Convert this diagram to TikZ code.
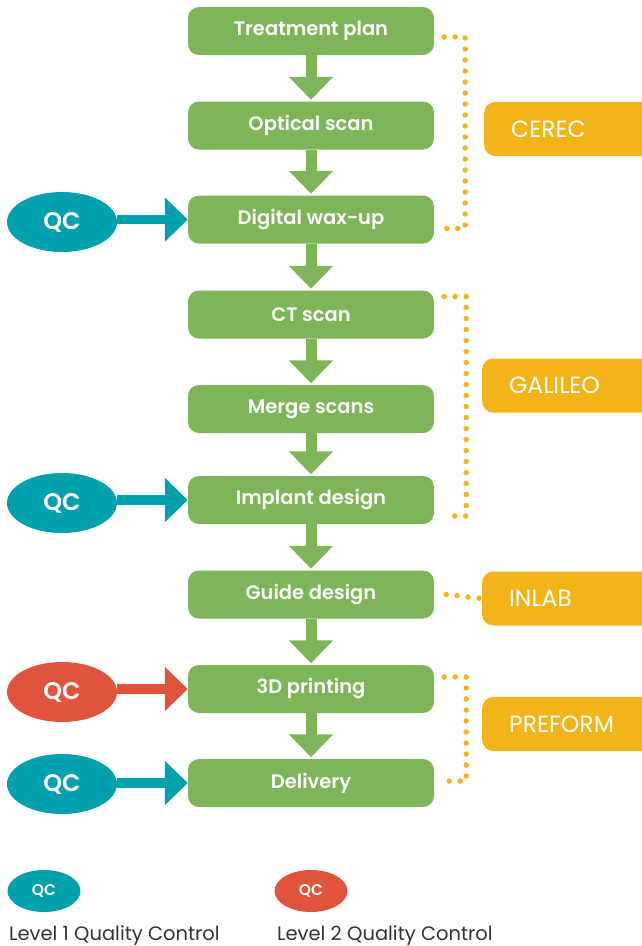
\documentclass[tikz,border=0pt]{standalone}
\usepackage{fontspec}
\setmainfont{Poppins}
\newfontfamily\medfont{Poppins SemiBold}
\usetikzlibrary{shapes.geometric,arrows.meta}
\definecolor{stepgreen}{HTML}{7DB558}
\definecolor{qcteal}{HTML}{00A0AC}
\definecolor{qcred}{HTML}{E0543E}
\definecolor{toolorange}{HTML}{F2B418}
\definecolor{legendgray}{HTML}{333333}
\begin{document}
\begin{tikzpicture}[x=1pt,y=-1pt,
    step node/.style={rounded corners=11pt,fill=stepgreen,text=white,minimum width=246pt,minimum height=48pt,inner sep=0pt,font=\medfont\fontsize{19.5}{24}\selectfont},
    tool node/.style={anchor=west,rounded corners=11pt,fill=toolorange,text=white,minimum height=54pt,text width=160pt,inner xsep=27pt,inner ysep=0pt,align=left,font=\fontsize{23.5}{26}\selectfont},
    qc node/.style={ellipse,minimum width=110pt,minimum height=60pt,inner sep=0pt,text=white,font=\medfont\fontsize{24}{28}\selectfont},
    small qc/.style={ellipse,minimum width=73pt,minimum height=42pt,inner sep=0pt,text=white,font=\medfont\fontsize{15.5}{18}\selectfont},
    flow/.style={stepgreen,line width=11pt,-{Triangle[width=43pt,length=23pt]},shorten >=1.5pt},
    check/.style={line width=9.5pt,-{Triangle[width=43pt,length=23pt]}},
    dots/.style={toolorange,line width=5.5pt,line cap=round,dash pattern=on 0pt off 11pt}]
    \clip (0,0) rectangle (642,946);

    % workflow steps
    \node[step node] at (311,31) (plan) {Treatment plan};
    \node[step node] at (311,125.5) (optical) {Optical scan};
    \node[step node] at (311,219.5) (waxup) {Digital wax-up};
    \node[step node] at (311,314.5) (ct) {CT scan};
    \node[step node] at (311,409) (merge) {Merge scans};
    \node[step node] at (311,500) (implant) {Implant design};
    \node[step node] at (311,594.5) (guide) {Guide design};
    \node[step node] at (311,689) (print) {3D printing};
    \node[step node] at (311,783) (delivery) {Delivery};

    \draw[flow] (plan) -- (optical);
    \draw[flow] (optical) -- (waxup);
    \draw[flow] (waxup) -- (ct);
    \draw[flow] (ct) -- (merge);
    \draw[flow] (merge) -- (implant);
    \draw[flow] (implant) -- (guide);
    \draw[flow] (guide) -- (print);
    \draw[flow] (print) -- (delivery);

    % quality control
    \node[qc node,fill=qcteal] at (62,222) (qca) {QC};
    \node[qc node,fill=qcteal] at (62,503) (qcb) {QC};
    \node[qc node,fill=qcred] at (62,692) (qcc) {QC};
    \node[qc node,fill=qcteal] at (62,784) (qcd) {QC};

    \draw[check,qcteal] (qca.east |- waxup) -- (waxup.west);
    \draw[check,qcteal] (qcb.east |- implant) -- (implant.west);
    \draw[check,qcred] (qcc.east |- print) -- (print.west);
    \draw[check,qcteal] (qcd.east |- delivery) -- (delivery.west);

    % software
    \node[tool node] at (484,129) (cerec) {CEREC};
    \node[tool node] at (482,385.5) (galileo) {GALILEO};
    \node[tool node] at (482,598.5) (inlab) {INLAB};
    \node[tool node] at (482,724) (preform) {PREFORM};

    \draw[dots] ([shift={(10,6)}]plan.east) -- ++(21,0) |- ([shift={(10,9)}]waxup.east);
    \draw[dots] ([shift={(10,-18)}]ct.east) -- ++(22,0) |- ([shift={(10,16)}]implant.east);
    \draw[dots] ([xshift=12]guide.east) -- (inlab.west);
    \draw[dots] ([shift={(10,-12)}]print.east) -- ++(22,0) |- ([shift={(10,-2)}]delivery.east);

    % legend
    \node[small qc,fill=qcteal] at (44,891) (lega) {QC};
    \node[small qc,fill=qcred] at (311,891) (legb) {QC};
    \node[anchor=base west,inner sep=0pt,text=legendgray,font=\fontsize{19.5}{23}\selectfont] at (9,940) (texta) {Level 1 Quality Control};
    \node[anchor=base west,inner sep=0pt,text=legendgray,font=\fontsize{19.5}{23}\selectfont] at (277,940) (textb) {Level 2 Quality Control};
\end{tikzpicture}
\end{document}
